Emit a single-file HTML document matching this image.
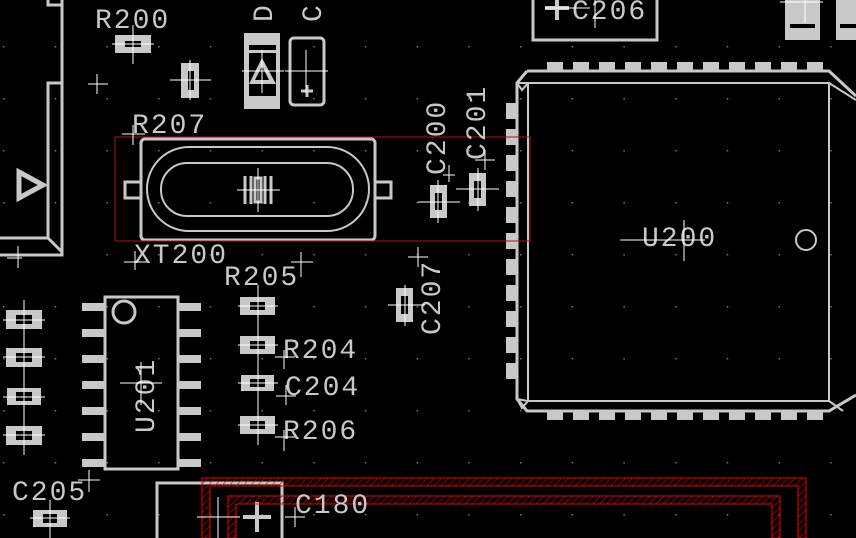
<!DOCTYPE html>
<html><head><style>
html,body{margin:0;padding:0;background:#000;}
svg{display:block}
text{font-family:"Liberation Mono",monospace;fill:#c8c8c8;font-size:28px;letter-spacing:2px;}
</style></head><body>
<svg width="856" height="538" viewBox="0 0 856 538" xmlns="http://www.w3.org/2000/svg">
<defs>
<pattern id="dots" x="3" y="46" width="51.7" height="52" patternUnits="userSpaceOnUse">
<rect x="0" y="0" width="1.5" height="1.5" fill="#777"/></pattern>
<pattern id="hatch" width="5" height="5" patternUnits="userSpaceOnUse" patternTransform="rotate(45)">
<line x1="0" y1="0" x2="0" y2="5" stroke="#e00" stroke-width="1.2"/></pattern>
</defs>
<rect width="856" height="538" fill="#000"/>
<rect width="856" height="538" fill="url(#dots)"/>
<g fill="none" stroke="#c8c8c8" stroke-width="3">
<path d="M48 0V5H62M62 0V83H48V238H0M62 83V255H0M48 238L62 252"/>
<path d="M19 172L43 185L19 198Z" stroke-width="5"/>
<rect x="141" y="139" width="234" height="101" rx="4"/>
<rect x="125" y="182" width="16" height="16"/><rect x="375" y="182" width="16" height="16"/>
<rect x="147" y="147" width="222" height="84" rx="42" stroke-width="2"/>
<rect x="161" y="163" width="192" height="53" rx="26" stroke-width="2"/>
<path d="M245 176V204M251 176V204M271 176V204M265 176V204"/><rect x="255" y="178" width="6" height="24"/>
<rect x="290" y="38" width="34" height="67" rx="4"/>
<path d="M307 85V97M301 91H313"/>
<rect x="105" y="297" width="73" height="172"/>
<circle cx="124" cy="312" r="11"/>
<path d="M533 0V40H657V0"/>
<path d="M557 -2V20M545 8H569" stroke-width="4"/>
<path d="M157 538V483H282V538"/>
<path d="M257 502V532M243 517H271" stroke-width="4"/>
<path d="M527 71H829L856 96M517 83L527 71M517 83V399L527 411H829L856 395" stroke-width="3"/>
<path d="M528 83H829V401H528Z" stroke-width="2"/>
<path d="M517 83L528 83L522 90Z M517 399L528 401L522 408Z M829 83L856 100 M829 401L843 411" stroke-width="2"/>
<circle cx="806" cy="240" r="10" stroke-width="2"/>
</g>
<g fill="#c8c8c8">
<rect x="115" y="35" width="36" height="18"/>
<rect x="181" y="63" width="18" height="35"/>
<rect x="244" y="33" width="36" height="76"/>
<rect x="430" y="185" width="17" height="33"/>
<rect x="469" y="173" width="17" height="33"/>
<rect x="396" y="288" width="17" height="34"/>
<rect x="240" y="297" width="35" height="18"/>
<rect x="240" y="336" width="35" height="18"/>
<rect x="241" y="375" width="33" height="16"/>
<rect x="240" y="416" width="35" height="18"/>
<rect x="6" y="310" width="36" height="19"/>
<rect x="6" y="348" width="36" height="19"/>
<rect x="7" y="388" width="34" height="17"/>
<rect x="6" y="426" width="36" height="19"/>
<rect x="33" y="510" width="34" height="17"/>
<rect x="785" y="0" width="35" height="40"/>
<rect x="836" y="0" width="20" height="40"/>
<g id="pl">
<rect x="82" y="303" width="22" height="8"/><rect x="82" y="329" width="22" height="8"/><rect x="82" y="355" width="22" height="8"/><rect x="82" y="381" width="22" height="8"/><rect x="82" y="407" width="22" height="8"/><rect x="82" y="433" width="22" height="8"/><rect x="82" y="459" width="22" height="8"/>
</g>
<use href="#pl" x="97"/>
<g id="pt">
<rect x="547" y="62" width="16" height="9"/><rect x="573" y="62" width="16" height="9"/><rect x="599" y="62" width="16" height="9"/><rect x="625" y="62" width="16" height="9"/><rect x="651" y="62" width="16" height="9"/><rect x="677" y="62" width="16" height="9"/><rect x="703" y="62" width="16" height="9"/><rect x="729" y="62" width="16" height="9"/><rect x="755" y="62" width="16" height="9"/><rect x="781" y="62" width="16" height="9"/><rect x="807" y="62" width="16" height="9"/>
</g>
<use href="#pt" y="349"/>
<g>
<rect x="506" y="103" width="11" height="16"/><rect x="506" y="129" width="11" height="16"/><rect x="506" y="155" width="11" height="16"/><rect x="506" y="181" width="11" height="16"/><rect x="506" y="207" width="11" height="16"/><rect x="506" y="233" width="11" height="16"/><rect x="506" y="259" width="11" height="16"/><rect x="506" y="285" width="11" height="16"/><rect x="506" y="311" width="11" height="16"/><rect x="506" y="337" width="11" height="16"/><rect x="506" y="363" width="11" height="16"/>
</g>
</g>
<g fill="#000">
<rect x="125" y="41" width="16" height="6"/>
<rect x="188" y="71" width="6" height="19"/>
<rect x="249" y="45" width="27" height="5"/><rect x="249" y="53" width="27" height="43"/>
<rect x="435" y="193" width="7" height="17"/><rect x="474" y="181" width="7" height="17"/><rect x="401" y="296" width="7" height="18"/>
<rect x="250" y="302" width="15" height="8"/><rect x="250" y="341" width="15" height="8"/><rect x="250" y="379" width="15" height="8"/><rect x="250" y="421" width="15" height="8"/>
<rect x="16" y="315" width="16" height="9"/><rect x="16" y="353" width="16" height="9"/><rect x="16" y="392" width="16" height="9"/><rect x="16" y="431" width="16" height="9"/>
<rect x="43" y="514" width="14" height="9"/>
<rect x="790" y="24" width="25" height="4"/><rect x="840" y="24" width="16" height="4"/>
</g>
<path d="M249 84L262 58L276 84Z" fill="#c8c8c8"/>
<path d="M255 80L262 66L269 80Z" fill="#000"/>
<rect x="115" y="137" width="415" height="104" fill="none" stroke="#b01020" stroke-width="1"/>
<g stroke="#e00" stroke-width="1">
<path d="M202 538V478H806V538 M210 538V486H798V538" fill="none"/>
<path d="M228 538V496H780V538 M236 538V504H772V538" fill="none"/>
<path d="M202 478H806V538H798V486H210V538H202Z" fill="url(#hatch)"/>
<path d="M228 496H780V538H772V504H236V538H228Z" fill="url(#hatch)"/>
</g>
<text x="95" y="28">R200</text>
<text x="132" y="133">R207</text>
<text x="134" y="263">XT200</text>
<text x="224" y="285">R205</text>
<text x="283" y="358">R204</text>
<text x="285" y="395">C204</text>
<text x="283" y="439">R206</text>
<text x="12" y="500">C205</text>
<text x="295" y="513">C180</text>
<text x="572" y="19">C206</text>
<text x="642" y="246">U200</text>
<text transform="translate(445,175) rotate(-90)">C200</text>
<text transform="translate(485,160) rotate(-90)">C201</text>
<text transform="translate(440,335) rotate(-90)">C207</text>
<text transform="translate(154,433) rotate(-90)">U201</text>
<text transform="translate(272,22) rotate(-90)">D</text>
<text transform="translate(321,22) rotate(-90)">C</text>
<g stroke="#fff" stroke-width="1">
<path d="M112 44H154M133 25V64 M170 80H211M190 60V100 M242 71H284M262 50V93 M285 71H328M306 50V93"/>
<path d="M237 190H280M258 168V212 M418 202H460M438 180V223 M456 189H499M478 168V211 M388 305H425M405 285V326"/>
<path d="M3 320H45M24 300V455M3 357H45M3 397H45M3 435H45 M30 518H70M50 500V538"/>
<path d="M238 306H278M258 285V445M238 345H278M238 383H278M238 425H278"/>
<path d="M120 383H162M141 362V405 M620 240H705M684 220V261 M545 8H590M595 0V28"/>
<path d="M780 2H823M805 0V23 M197 517H240M218 497V538"/>
<path d="M88 84H108M97 74V94 M122 134H145M133 125V145 M124 262H147M135 251V270 M291 262H313M301 252V277"/>
<path d="M275 357H295M284 350V369 M276 396H296M286 385V405 M275 437H295M284 430V451 M78 480H100M89 470V492 M285 517H305M295 507V527"/>
<path d="M408 257H428M418 247V267 M443 175H455M449 165V182 M475 160H495M485 150V170 M7 258H22M18 246V268"/>
</g>
</svg>
</body></html>
